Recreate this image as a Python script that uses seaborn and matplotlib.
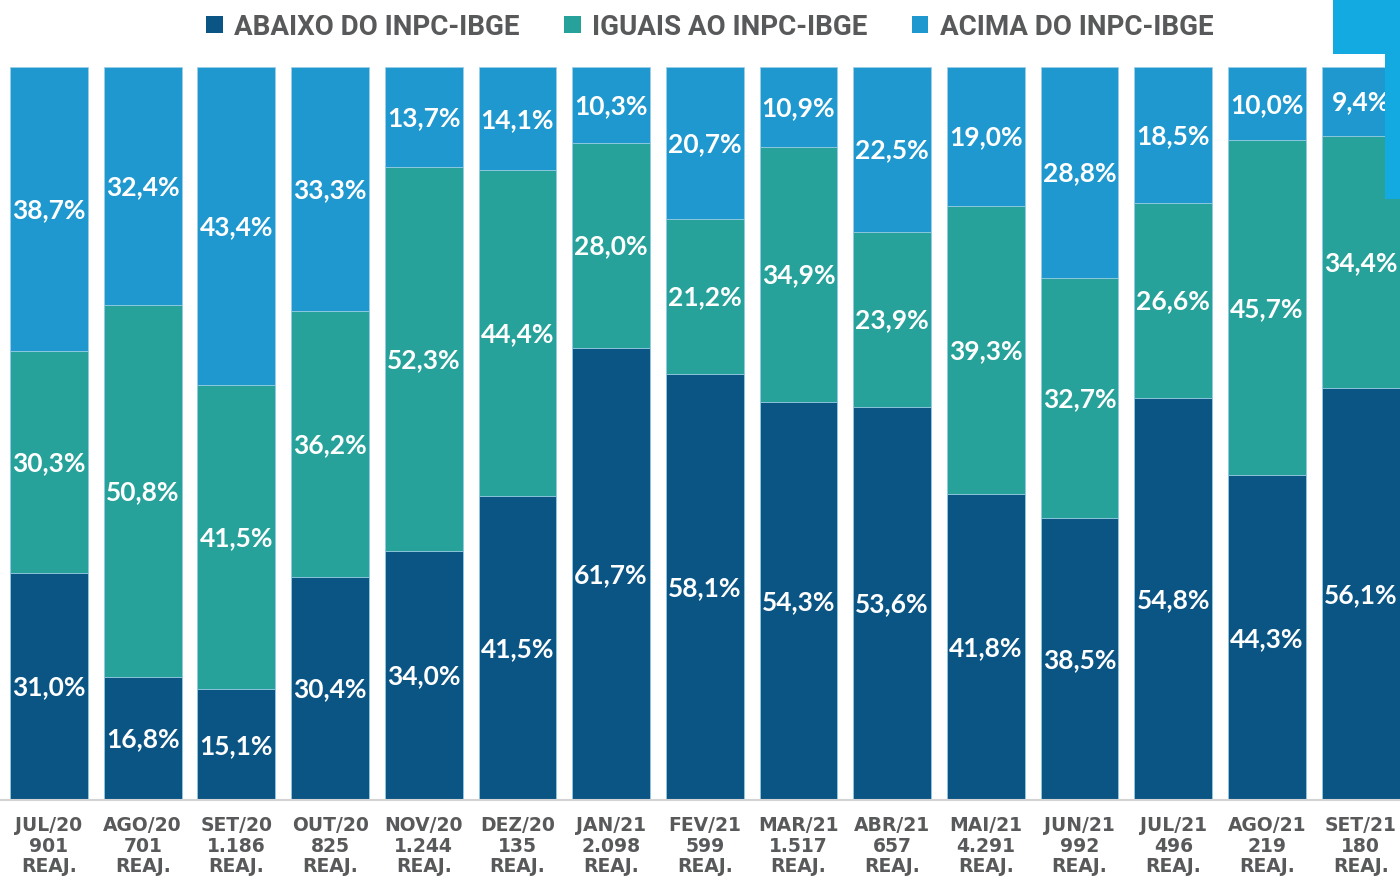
#!/usr/bin/env python3
"""Stacked 100% bars: reajustes abaixo / iguais / acima do INPC-IBGE."""

import matplotlib
matplotlib.use("Agg")
import matplotlib.pyplot as plt
import numpy as np
import pandas as pd
import seaborn as sns
from matplotlib.patches import Patch, Rectangle

MONTHS = ["JUL/20", "AGO/20", "SET/20", "OUT/20", "NOV/20", "DEZ/20", "JAN/21", "FEV/21",
          "MAR/21", "ABR/21", "MAI/21", "JUN/21", "JUL/21", "AGO/21", "SET/21"]
COUNTS = ["901", "701", "1.186", "825", "1.244", "135", "2.098", "599",
          "1.517", "657", "4.291", "992", "496", "219", "180"]
ABAIXO = [31.0, 16.8, 15.1, 30.4, 34.0, 41.5, 61.7, 58.1, 54.3, 53.6, 41.8, 38.5, 54.8, 44.3, 56.1]
IGUAIS = [30.3, 50.8, 41.5, 36.2, 52.3, 44.4, 28.0, 21.2, 34.9, 23.9, 39.3, 32.7, 26.6, 45.7, 34.4]
ACIMA = [38.7, 32.4, 43.4, 33.3, 13.7, 14.1, 10.3, 20.7, 10.9, 22.5, 19.0, 28.8, 18.5, 10.0, 9.4]

SERIES = ["ABAIXO DO INPC-IBGE", "IGUAIS AO INPC-IBGE", "ACIMA DO INPC-IBGE"]
COLORS = ["#0B5585", "#26A29A", "#1F98CF"]
TEXT_GREY = "#58595B"

df = pd.DataFrame({"mes": MONTHS, SERIES[0]: ABAIXO, SERIES[1]: IGUAIS, SERIES[2]: ACIMA})
# 100% stacked: normalise each month so the segments fill the bar
share = df[SERIES].div(df[SERIES].sum(axis=1), axis=0) * 100
cum = share.cumsum(axis=1)
cum["mes"] = df["mes"]

sns.set_theme(style="white")
plt.rcParams["font.family"] = ["Lato", "DejaVu Sans"]

fig = plt.figure(figsize=(14, 8.79), dpi=100)
ax = fig.add_axes([0, 0.0887, 1, 0.8339])

# draw cumulative totals from the top down so each segment shows
for name, color in zip(SERIES[::-1], COLORS[::-1]):
    sns.barplot(data=cum, x="mes", y=name, order=MONTHS, color=color, width=0.83,
                edgecolor="#9ccfe6", linewidth=0.6, saturation=1, ax=ax)

for i in range(len(MONTHS)):
    bottom = 0.0
    for name, raw in zip(SERIES, [ABAIXO, IGUAIS, ACIMA]):
        h = share[name].iloc[i]
        ax.text(i, bottom + h / 2, f"{raw[i]:.1f}%".replace(".", ","), ha="center", va="center",
                color="white", fontsize=19, fontweight="bold")
        bottom += h

ax.set_xlim(-0.523, 14.42)
ax.set_ylim(0, 100)
ax.set_xlabel("")
ax.set_ylabel("")
ax.set_yticks([])
ax.set_xticks(range(len(MONTHS)))
ax.set_xticklabels([f"{m}\n{c}\nREAJ." for m, c in zip(MONTHS, COUNTS)],
                   fontsize=13.5, fontweight="bold", color=TEXT_GREY, linespacing=1.1,
                   family=["DejaVu Sans"])
ax.tick_params(axis="x", length=0, pad=11)
for side in ["top", "left", "right"]:
    ax.spines[side].set_visible(False)
ax.spines["bottom"].set_color("#D3D3D3")
ax.spines["bottom"].set_linewidth(1.5)

handles = [Patch(facecolor=c, edgecolor="none") for c in COLORS]
fig.legend(handles, SERIES, loc="upper center", bbox_to_anchor=(0.507, 1.012), ncol=3,
           frameon=False, handlelength=0.6, handleheight=0.6, handletextpad=0.4,
           columnspacing=1.6, prop={"family": "Roboto", "weight": "bold", "size": 20},
           labelcolor=TEXT_GREY)

# corner ornament
fig.patches.append(Rectangle((1333 / 1400, 1 - 55 / 879), 67 / 1400, 55 / 879,
                             transform=fig.transFigure, facecolor="#13AAE2", edgecolor="none"))
fig.patches.append(Rectangle((1385 / 1400, 1 - 200 / 879), 15 / 1400, 145 / 879,
                             transform=fig.transFigure, facecolor="#13AAE2", edgecolor="none"))

fig.savefig("out.png", dpi=100)
